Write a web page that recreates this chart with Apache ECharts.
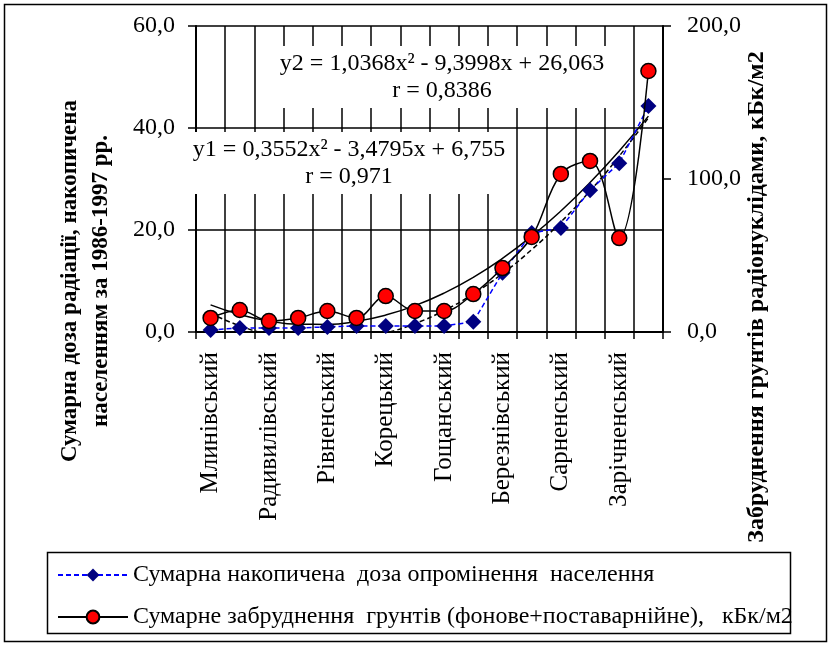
<!DOCTYPE html>
<html><head><meta charset="utf-8">
<script src="https://cdn.jsdelivr.net/npm/echarts@6/dist/echarts.min.js"></script>
<style>html,body{margin:0;padding:0;background:#fff;}#c{width:832px;height:649px;}</style>
</head><body><div id="c"></div>
<script>
var categories = ['Млинівський','Дубенський','Радивилівський','Демидівський','Рівненський','Острозький','Корецький','Здолбунівський','Гощанський','Костопільський','Березнівський','Володимирецький','Сарненський','Дубровицький','Зарічненський','Рокитнівський'];
var doseValues = [0.4, 0.8, 0.8, 0.8, 1.0, 1.2, 1.2, 1.2, 1.2, 2.0, 11.6, 19.4, 20.4, 27.8, 33.1, 44.3];
var soilValues = [9.2, 14.4, 7.2, 9.2, 13.7, 9.2, 23.5, 13.7, 13.7, 24.8, 41.8, 62.1, 103.3, 111.8, 61.4, 170.6];
var doseTrend = [3.63, 1.22, -0.49, -1.48, -1.76, -1.33, -0.20, 1.65, 4.21, 7.48, 11.46, 16.15, 21.55, 27.66, 34.48, 42.01];
var soilTrend = [17.70, 11.41, 7.19, 5.05, 4.98, 6.99, 11.07, 17.22, 25.45, 35.75, 48.12, 62.56, 79.09, 97.68, 118.35, 141.09];
var leftTicks = {min: 0, max: 60, interval: 20};
var rightTicks = {min: 0, max: 200, interval: 100};
var doseName = 'Сумарна накопичена  доза опромінення  населення';
var soilName = 'Сумарне забруднення  грунтів (фонове+поставарнійне),   кБк/м2';
var leftTitle = 'Сумарна доза радіації, накопичена\nнаселенням за 1986-1997 рр.';
var rightTitle = 'Забруднення грунтів радіонуклідами, кБк/м2';
var eq2 = 'y2 = 1,0368x² - 9,3998x + 26,063\nr = 0,8386';
var eq1 = 'y1 = 0,3552x² - 3,4795x + 6,755\nr = 0,971';

var FONT = 'Liberation Serif';
function fmt(v){ return v.toFixed(1).replace('.', ','); }
var chart = echarts.init(document.getElementById('c'), null, {renderer: 'canvas'});
chart.setOption({
  backgroundColor: '#fff',
  animation: false,
  textStyle: {fontFamily: FONT, color: '#000'},
  grid: {left: 196, right: 169, top: 26, bottom: 317, containLabel: false},
  legend: {
    orient: 'vertical', left: 57, top: 563, padding: 0, itemWidth: 70, itemHeight: 16, itemGap: 18,
    data: [doseName, soilName],
    textStyle: {fontFamily: FONT, fontSize: 24, color: '#000'}
  },
  xAxis: {
    type: 'category', data: categories, boundaryGap: true,
    axisLine: {lineStyle: {color: '#000', width: 2}},
    axisTick: {show: true, interval: 0, length: 7, lineStyle: {color: '#000', width: 1.5}},
    splitLine: {show: true, interval: 0, lineStyle: {color: '#000', width: 1.5}},
    axisLabel: {interval: 1, rotate: 90, margin: 20, fontFamily: FONT, fontSize: 25, color: '#000'}
  },
  yAxis: [{
    type: 'value', min: leftTicks.min, max: leftTicks.max, interval: leftTicks.interval,
    axisLine: {show: true, lineStyle: {color: '#000', width: 2}},
    axisTick: {show: true, length: 8, lineStyle: {color: '#000', width: 1.5}},
    splitLine: {show: true, lineStyle: {color: '#000', width: 1.5}},
    axisLabel: {formatter: fmt, margin: 21, fontFamily: FONT, fontSize: 24, color: '#000'}
  }, {
    type: 'value', min: rightTicks.min, max: rightTicks.max, interval: rightTicks.interval,
    axisLine: {show: true, lineStyle: {color: '#000', width: 2}},
    axisTick: {show: true, length: 8, lineStyle: {color: '#000', width: 1.5}},
    splitLine: {show: false},
    axisLabel: {formatter: fmt, margin: 24, fontFamily: FONT, fontSize: 24, color: '#000'}
  }],
  series: [{
    name: 'trend1', type: 'line', yAxisIndex: 0, data: doseTrend, smooth: true, showSymbol: false, symbol: 'none',
    lineStyle: {color: '#000', width: 1.5, type: [5, 3]}, clip: true, silent: true, z: 2
  }, {
    name: 'trend2', type: 'line', yAxisIndex: 1, data: soilTrend, smooth: true, showSymbol: false, symbol: 'none',
    lineStyle: {color: '#000', width: 1.5}, clip: true, silent: true, z: 2
  }, {
    name: doseName, type: 'line', yAxisIndex: 0, data: doseValues,
    symbol: 'diamond', symbolSize: 16,
    itemStyle: {color: '#000080'},
    lineStyle: {color: '#0000ff', width: 1.5, type: [5, 3]}, z: 3
  }, {
    name: soilName, type: 'line', yAxisIndex: 1, data: soilValues, smooth: 0.35,
    symbol: 'circle', symbolSize: 15,
    itemStyle: {color: '#ff0000', borderColor: '#000', borderWidth: 1.5},
    lineStyle: {color: '#000', width: 1.5}, z: 4
  }],
  graphic: [
    {type: 'rect', shape: {x: 4.5, y: 4.5, width: 822, height: 637}, style: {fill: 'none', stroke: '#000', lineWidth: 1.5}, silent: true, z: 0},
    {type: 'rect', shape: {x: 47.5, y: 552.5, width: 743, height: 81}, style: {fill: 'none', stroke: '#000', lineWidth: 1.5}, silent: true, z: 0},
    {type: 'text', x: 442, y: 77, z: 100, style: {text: eq2, font: '24px "Liberation Serif"', fill: '#000', align: 'center', verticalAlign: 'middle', lineHeight: 27, backgroundColor: '#fff', padding: [4, 12]}},
    {type: 'text', x: 349, y: 163, z: 100, style: {text: eq1, font: '24px "Liberation Serif"', fill: '#000', align: 'center', verticalAlign: 'middle', lineHeight: 27, backgroundColor: '#fff', padding: [4, 6]}},
    {type: 'text', x: 86, y: 281, rotation: Math.PI / 2, z: 100, style: {text: leftTitle, font: 'bold 23px "Liberation Serif"', fill: '#000', align: 'center', verticalAlign: 'middle', lineHeight: 31}},
    {type: 'text', x: 757, y: 297, rotation: Math.PI / 2, z: 100, style: {text: rightTitle, font: 'bold 24px "Liberation Serif"', fill: '#000', align: 'center', verticalAlign: 'middle'}}
  ]
});
</script></body></html>
